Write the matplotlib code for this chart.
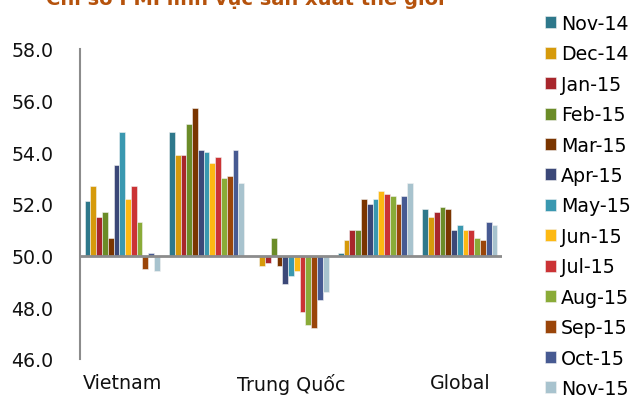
import numpy as np
import matplotlib
matplotlib.use("Agg")
import matplotlib.pyplot as plt

# PMI san xuat, Nov-14 .. Nov-15
regions = ["Vietnam", "Mỹ", "Trung Quốc", "Eurozone", "Global"]
shown_labels = ["Vietnam", "", "Trung Quốc", "", "Global"]
months = ["Nov-14", "Dec-14", "Jan-15", "Feb-15", "Mar-15", "Apr-15", "May-15",
          "Jun-15", "Jul-15", "Aug-15", "Sep-15", "Oct-15", "Nov-15"]

vietnam = [52.1, 52.7, 51.5, 51.7, 50.7, 53.5, 54.8, 52.2, 52.7, 51.3, 49.5, 50.1, 49.4]
usa = [54.8, 53.9, 53.9, 55.1, 55.7, 54.1, 54.0, 53.6, 53.8, 53.0, 53.1, 54.1, 52.8]
china = [50.0, 49.6, 49.7, 50.7, 49.6, 48.9, 49.2, 49.4, 47.8, 47.3, 47.2, 48.3, 48.6]
eurozone = [50.1, 50.6, 51.0, 51.0, 52.2, 52.0, 52.2, 52.5, 52.4, 52.3, 52.0, 52.3, 52.8]
global_pmi = [51.8, 51.5, 51.7, 51.9, 51.8, 51.0, 51.2, 51.0, 51.0, 50.7, 50.6, 51.3, 51.2]

colors = ["#2E788B", "#D69A0B", "#A8262C", "#6B8C28", "#7A3500", "#3B4878", "#3A98B0",
          "#FDB913", "#CB3335", "#8AAB38", "#9A4509", "#475A92", "#A8C3CE"]

data = np.array([vietnam, usa, china, eurozone, global_pmi])  # region x month
base = 50.0

fig = plt.figure(figsize=(6.34, 4.02), dpi=100)
ax = fig.add_axes([80/634, 42/402, 422/634, 310/402])

x = np.arange(len(regions))
n = len(months)
w = 0.89 / n
for j in range(n):
    pos = x - 0.445 + w*(j + 0.5)
    ax.bar(pos, data[:, j] - base, w, bottom=base, color=colors[j],
           edgecolor="#f2f2f2", linewidth=0.4, label=months[j], zorder=2)

ax.axhline(base, color="#8c8c8c", linewidth=2, zorder=3)
ax.set_xlim(-0.5, len(regions) - 0.5)
ax.set_ylim(46, 58)
ax.set_yticks(np.arange(46, 58.1, 2))
ax.set_yticklabels(["%.1f" % v for v in np.arange(46, 58.1, 2)])
ax.set_xticks(x)
ax.set_xticklabels(shown_labels)
ax.tick_params(axis="both", length=0, labelsize=13.7, colors="#111111")
ax.tick_params(axis="y", pad=19)
ax.tick_params(axis="x", pad=10)
for s in ["top", "right", "bottom"]:
    ax.spines[s].set_visible(False)
ax.spines["left"].set_color("#8c8c8c")
ax.spines["left"].set_linewidth(1.5)

fig.legend(loc="upper left", bbox_to_anchor=(545/634, 1 - 15/402), frameon=False,
           fontsize=13.7, handlelength=0.6, handleheight=0.6, handletextpad=0.25,
           labelspacing=0.6, borderpad=0, borderaxespad=0)

fig.text(245/634, 1 - 5/402, "Chỉ số PMI lĩnh vực sản xuất thế giới", ha="center",
         va="baseline", fontsize=14, fontweight="bold", color="#B5520C")

fig.savefig("out.png", dpi=100)
